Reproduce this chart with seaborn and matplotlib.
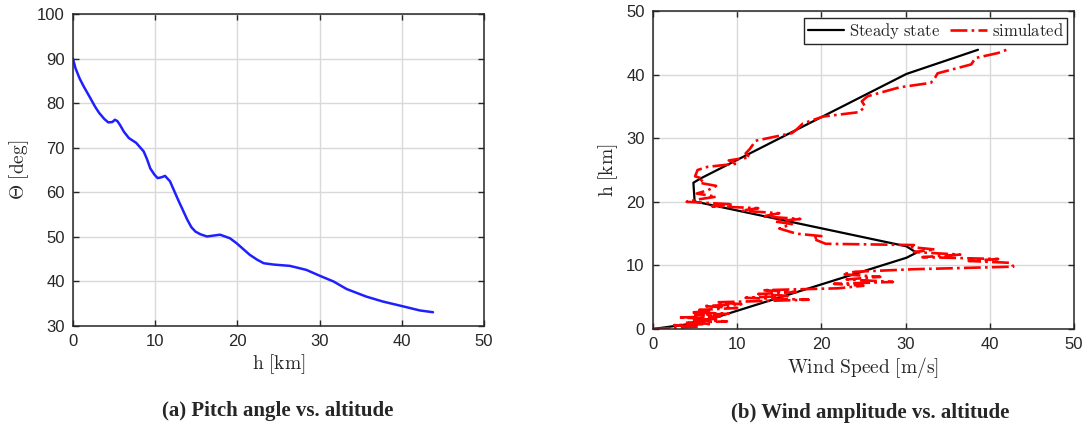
import numpy as np
import pandas as pd
import matplotlib
matplotlib.use('Agg')
import matplotlib.pyplot as plt
import seaborn as sns

# ── Data ──────────────────────────────────────────────────────────────────────
# (a) pitch angle vs altitude
pitch_h = [0.0, 0.3, 0.8, 1.3, 2.1, 2.7, 3.2, 3.8, 4.3, 4.8, 5.1, 5.4, 5.7,
           6.2, 6.8, 7.7, 8.6, 9.0, 9.4, 9.9, 10.3, 10.8, 11.2, 11.8, 12.8,
           13.9, 14.4, 14.9, 15.5, 16.3, 17.1, 17.9, 19.1, 19.9, 21.5, 22.4,
           23.2, 24.4, 26.4, 28.4, 30.0, 31.7, 33.3, 35.7, 37.7, 40.2, 42.2,
           43.8]
pitch_theta = [90.0, 87.9, 85.6, 83.8, 81.2, 79.2, 77.8, 76.5, 75.7, 75.8,
               76.3, 76.0, 75.2, 73.6, 72.2, 71.1, 69.2, 67.5, 65.4, 64.0,
               63.2, 63.4, 63.7, 62.5, 58.3, 53.9, 52.2, 51.2, 50.6, 50.1,
               50.3, 50.5, 49.7, 48.6, 46.0, 44.9, 44.1, 43.8, 43.5, 42.6,
               41.3, 40.0, 38.3, 36.6, 35.5, 34.4, 33.5, 33.1]

# (b) wind profile, steady state
steady_wind = [0.0, 5.5, 30.1, 31.3, 30.1, 4.95, 4.8, 5.7, 30.1, 38.6]
steady_h    = [0.0, 1.0, 11.2, 12.0, 13.0, 20.05, 23.0, 23.7, 40.1, 43.9]

# (b) wind profile, simulated (noisy)
sim_wind = [0.0, 3.0, 5.5, 2.5, 7.0, 3.8, 8.8, 4.5, 7.5, 3.0, 8.0, 5.0, 9.0,
            4.5, 7.0, 5.5, 10.0, 6.0, 10.5, 7.5, 18.5, 11.0, 16.0, 12.5, 17.0,
            13.0, 22.0, 25.0, 21.5, 28.5, 23.0, 27.0, 22.5, 24.0, 31.0, 42.8,
            42.5, 37.5, 41.0, 32.0, 36.5, 31.0, 33.5, 30.5, 31.0, 20.5, 19.0,
            20.0, 17.0, 15.0, 16.5, 14.5, 17.5, 13.0, 15.0, 10.5, 12.5, 7.0,
            9.5, 4.0, 5.5, 7.5, 5.2, 6.5, 7.5, 5.5, 6.0, 5.0, 5.3, 6.5, 10.0,
            9.0, 11.5, 11.0, 11.5, 12.2, 16.5, 17.0, 17.8, 20.2, 24.5, 25.2,
            24.8, 25.5, 29.3, 33.0, 33.5, 33.8, 37.8, 38.3, 41.0, 42.0]
sim_h = [0.0, 0.2, 0.4, 0.6, 0.8, 1.0, 1.2, 1.4, 1.6, 1.8, 2.0, 2.2, 2.4,
         2.6, 2.8, 3.0, 3.3, 3.6, 3.9, 4.2, 4.6, 4.9, 5.2, 5.5, 5.8,
         6.1, 6.4, 6.8, 7.1, 7.4, 7.8, 8.2, 8.6, 9.0, 9.4, 9.8,
         10.4, 10.7, 11.0, 11.3, 11.7, 12.1, 12.5, 12.9, 13.2, 13.4, 14.2,
         14.6, 15.0, 15.8, 16.5, 16.9, 17.3, 17.7, 18.2, 18.6, 19.0, 19.3,
         19.6, 20.0, 20.4, 20.8, 21.3, 21.8, 22.5, 23.0, 23.6, 24.0, 25.0,
         25.5, 26.0, 26.5, 27.0, 27.6, 28.3, 29.6, 30.8, 31.3, 32.3, 33.4,
         34.1, 35.0, 35.8, 36.6, 38.0, 38.7, 39.5, 40.2, 41.6, 42.6, 43.4,
         43.9]

# ── Style ─────────────────────────────────────────────────────────────────────
sns.set_theme(style="ticks")
plt.rcParams['font.family'] = ['Liberation Sans', 'DejaVu Sans']
plt.rcParams['mathtext.fontset'] = 'cm'


def matlab_axes(ax, xlim, ylim, step):
    ax.set_xlim(xlim)
    ax.set_ylim(ylim)
    ax.set_xticks(np.arange(xlim[0], xlim[1] + 1, step))
    ax.set_yticks(np.arange(ylim[0], ylim[1] + 1, step))
    ax.grid(True, color="#d9d9d9", linewidth=1.0)
    ax.set_axisbelow(True)
    ax.tick_params(direction="in", top=True, right=True, length=4,
                   width=1.0, color="#262626", labelsize=12,
                   labelcolor="#262626", pad=6)
    for s in ax.spines.values():
        s.set_color("#262626")
        s.set_linewidth(1.1)


fig = plt.figure(figsize=(10.89, 4.29), dpi=100)
ax1 = fig.add_axes([0.067, 0.240, 0.3774, 0.727])
ax2 = fig.add_axes([0.5996, 0.2331, 0.3866, 0.7413])

# ── (a) ───────────────────────────────────────────────────────────────────────
df_a = pd.DataFrame({"h": pitch_h, "theta": pitch_theta})
sns.lineplot(data=df_a, x="h", y="theta", sort=False, estimator=None,
             color="#2020ff", linewidth=1.8, ax=ax1)
matlab_axes(ax1, (0, 50), (30, 100), 10)
ax1.set_xlabel(r"$\mathrm{h\ [km]}$", fontsize=14, color="#262626", labelpad=2)
ax1.set_ylabel(r"$\Theta\ \mathrm{[deg]}$", fontsize=14, color="#262626",
               labelpad=4)

# ── (b) ───────────────────────────────────────────────────────────────────────
df_s = pd.DataFrame({"wind": steady_wind, "h": steady_h})
df_m = pd.DataFrame({"wind": sim_wind, "h": sim_h})
sns.lineplot(data=df_s, x="wind", y="h", sort=False, estimator=None,
             color="black", linewidth=1.6, ax=ax2,
             label=r"$\mathrm{Steady\ state}$")
sns.lineplot(data=df_m, x="wind", y="h", sort=False, estimator=None,
             color="#ff0000", linewidth=1.9, linestyle="-.", ax=ax2,
             label=r"$\mathrm{simulated}$")
matlab_axes(ax2, (0, 50), (0, 50), 10)
ax2.set_xlabel(r"$\mathrm{Wind\ Speed\ [m/s]}$", fontsize=14, color="#262626",
               labelpad=2)
ax2.set_ylabel(r"$\mathrm{h\ [km]}$", fontsize=14, color="#262626", labelpad=4)
leg = ax2.legend(loc="upper right", ncol=2, fontsize=12, frameon=True,
                 fancybox=False, edgecolor="#262626", framealpha=1,
                 handlelength=2.2, columnspacing=0.6, handletextpad=0.3,
                 borderpad=0.2, borderaxespad=0.4)
leg.get_frame().set_linewidth(1.0)

# ── captions ──────────────────────────────────────────────────────────────────
fig.text(0.255, 0.042, "(a) Pitch angle vs. altitude", ha="center",
         va="center", fontsize=15, fontweight="bold",
         family="Liberation Serif")
fig.text(0.799, 0.037, "(b) Wind amplitude vs. altitude", ha="center",
         va="center", fontsize=15, fontweight="bold",
         family="Liberation Serif")

fig.savefig("out.png", dpi=100)
